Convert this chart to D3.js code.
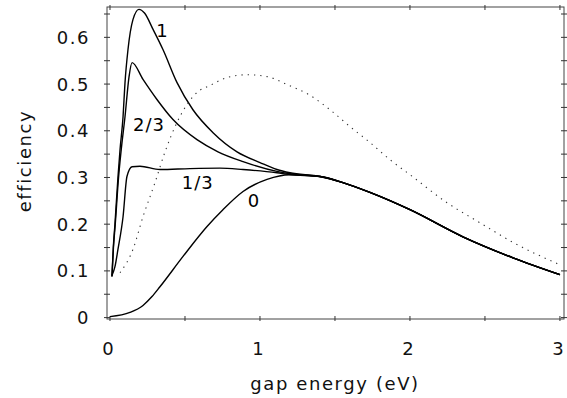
<!DOCTYPE html>
<html>
<head>
<meta charset="utf-8">
<script src="https://cdn.jsdelivr.net/npm/d3@7"></script>
<style>
  body { margin: 0; background: #fff; }
  svg { display: block; }
</style>
</head>
<body>
<div id="chart"></div>
<script>
// data: [gap energy (eV), efficiency]
var tail = [[1.4, 0.302], [1.553, 0.289], [1.733, 0.268], [2.0, 0.231], [2.353, 0.173], [2.687, 0.128], [3.0, 0.092]];

var curve1 = [[0.013, 0.088], [0.022, 0.15], [0.033, 0.2], [0.053, 0.3], [0.067, 0.36], [0.087, 0.43], [0.1, 0.503], [0.12, 0.574],
  [0.153, 0.638], [0.193, 0.660], [0.23, 0.652], [0.287, 0.617], [0.353, 0.574], [0.447, 0.503], [0.553, 0.445],
  [0.687, 0.396], [0.847, 0.355], [1.0, 0.332], [1.113, 0.317], [1.2, 0.310]];

var curve23 = [[0.013, 0.088], [0.023, 0.15], [0.035, 0.2], [0.057, 0.3], [0.075, 0.36], [0.1, 0.43], [0.127, 0.516], [0.147, 0.546],
  [0.22, 0.51], [0.313, 0.467], [0.42, 0.424], [0.58, 0.381], [0.72, 0.355], [0.887, 0.334], [1.113, 0.313], [1.2, 0.308]];

var curve13 = [[0.013, 0.09], [0.033, 0.109], [0.053, 0.146], [0.087, 0.216], [0.113, 0.302], [0.147, 0.323],
  [0.2, 0.324], [0.333, 0.317], [0.533, 0.319], [0.733, 0.320], [0.887, 0.317], [1.113, 0.310], [1.2, 0.306]];

var curve0 = [[0.0, 0.002], [0.133, 0.011], [0.22, 0.026], [0.28, 0.045], [0.333, 0.066], [0.487, 0.131], [0.647, 0.195],
  [0.753, 0.231], [0.887, 0.270], [1.047, 0.296], [1.2, 0.306]];

var dotted = [[0.067, 0.096], [0.153, 0.146], [0.22, 0.216], [0.3, 0.289], [0.367, 0.355], [0.447, 0.418],
  [0.58, 0.482], [0.667, 0.497], [0.78, 0.514], [0.913, 0.520], [1.047, 0.516], [1.18, 0.499], [1.333, 0.476],
  [1.467, 0.445], [1.6, 0.409], [1.733, 0.375], [1.867, 0.338], [2.0, 0.306], [2.247, 0.246], [2.467, 0.203],
  [2.687, 0.161], [3.0, 0.113]];

var xTicks = [0, 1, 2, 3];
var yTicks = [0, 0.1, 0.2, 0.3, 0.4, 0.5, 0.6];
var curveLabels = [
  {text: "1", e: 0.35, v: 0.615},
  {text: "2/3", e: 0.26, v: 0.413},
  {text: "1/3", e: 0.585, v: 0.29},
  {text: "0", e: 0.96, v: 0.25}
];

var width = 567, height = 398;
var font = "'DejaVu Sans', sans-serif";

var x = d3.scaleLinear().domain([-0.02, 3.027]).range([107, 564]);
var y = d3.scaleLinear().domain([-0.003, 0.665]).range([319, 7]);

var svg = d3.select("#chart").append("svg")
  .attr("width", width)
  .attr("height", height)
  .style("font-family", font);

// frame
svg.append("rect")
  .attr("x", x.range()[0]).attr("y", y.range()[1])
  .attr("width", x.range()[1] - x.range()[0])
  .attr("height", y.range()[0] - y.range()[1])
  .attr("fill", "none").attr("stroke", "#444").attr("stroke-width", 1);

// small ticks crossing the frame
var xt = d3.range(0, 3.01, 0.5);
var yt = d3.range(0, 0.651, 0.05);
var ticks = svg.append("g").attr("stroke", "#333").attr("stroke-width", 1);
xt.forEach(function (t) {
  ticks.append("line").attr("x1", x(t)).attr("x2", x(t)).attr("y1", y.range()[0] - 3).attr("y2", y.range()[0] + 2);
  ticks.append("line").attr("x1", x(t)).attr("x2", x(t)).attr("y1", y.range()[1] - 2).attr("y2", y.range()[1] + 3);
});
yt.forEach(function (t) {
  ticks.append("line").attr("x1", x.range()[0] - 3).attr("x2", x.range()[0] + 3).attr("y1", y(t)).attr("y2", y(t));
  ticks.append("line").attr("x1", x.range()[1] - 3).attr("x2", x.range()[1] + 3).attr("y1", y(t)).attr("y2", y(t));
});

// tick labels
svg.append("g").selectAll("text").data(yTicks).enter().append("text")
  .attr("x", 90).attr("y", function (d) { return y(d); })
  .attr("dy", "0.36em")
  .attr("text-anchor", "end")
  .attr("font-size", 18)
  .attr("letter-spacing", 1.5)
  .attr("fill", "#111")
  .text(function (d) { return d === 0 ? "0" : d3.format(".1f")(d); });

svg.append("g").selectAll("text").data(xTicks).enter().append("text")
  .attr("x", function (d) { return x(d) - 2; }).attr("y", 355)
  .attr("text-anchor", "middle")
  .attr("font-size", 18)
  .attr("fill", "#111")
  .text(function (d) { return d; });

// axis titles
svg.append("text")
  .attr("x", 335).attr("y", 390)
  .attr("text-anchor", "middle")
  .attr("font-size", 18)
  .attr("letter-spacing", 1.6)
  .attr("fill", "#111")
  .text("gap energy (eV)");

svg.append("text")
  .attr("transform", "translate(31,161) rotate(-90)")
  .attr("text-anchor", "middle")
  .attr("font-size", 18)
  .attr("letter-spacing", 1.6)
  .attr("fill", "#111")
  .text("efficiency");

// curves
var line = d3.line()
  .x(function (d) { return x(d[0]); })
  .y(function (d) { return y(d[1]); })
  .curve(d3.curveMonotoneX);

var solid = [curve1.concat(tail), curve23.concat(tail), curve13.concat(tail), curve0.concat(tail)];
svg.append("g").selectAll("path").data(solid).enter().append("path")
  .attr("d", line)
  .attr("fill", "none")
  .attr("stroke", "#000")
  .attr("stroke-width", 1.4);

svg.append("path")
  .attr("d", line(dotted))
  .attr("fill", "none")
  .attr("stroke", "#333")
  .attr("stroke-width", 1.1)
  .attr("stroke-dasharray", "1.3,5");

// curve labels
svg.append("g").selectAll("text").data(curveLabels).enter().append("text")
  .attr("x", function (d) { return x(d.e); })
  .attr("y", function (d) { return y(d.v); })
  .attr("dy", "0.36em")
  .attr("text-anchor", "middle")
  .attr("font-size", 18)
  .attr("letter-spacing", 1)
  .attr("fill", "#000")
  .text(function (d) { return d.text; });
</script>
</body>
</html>
